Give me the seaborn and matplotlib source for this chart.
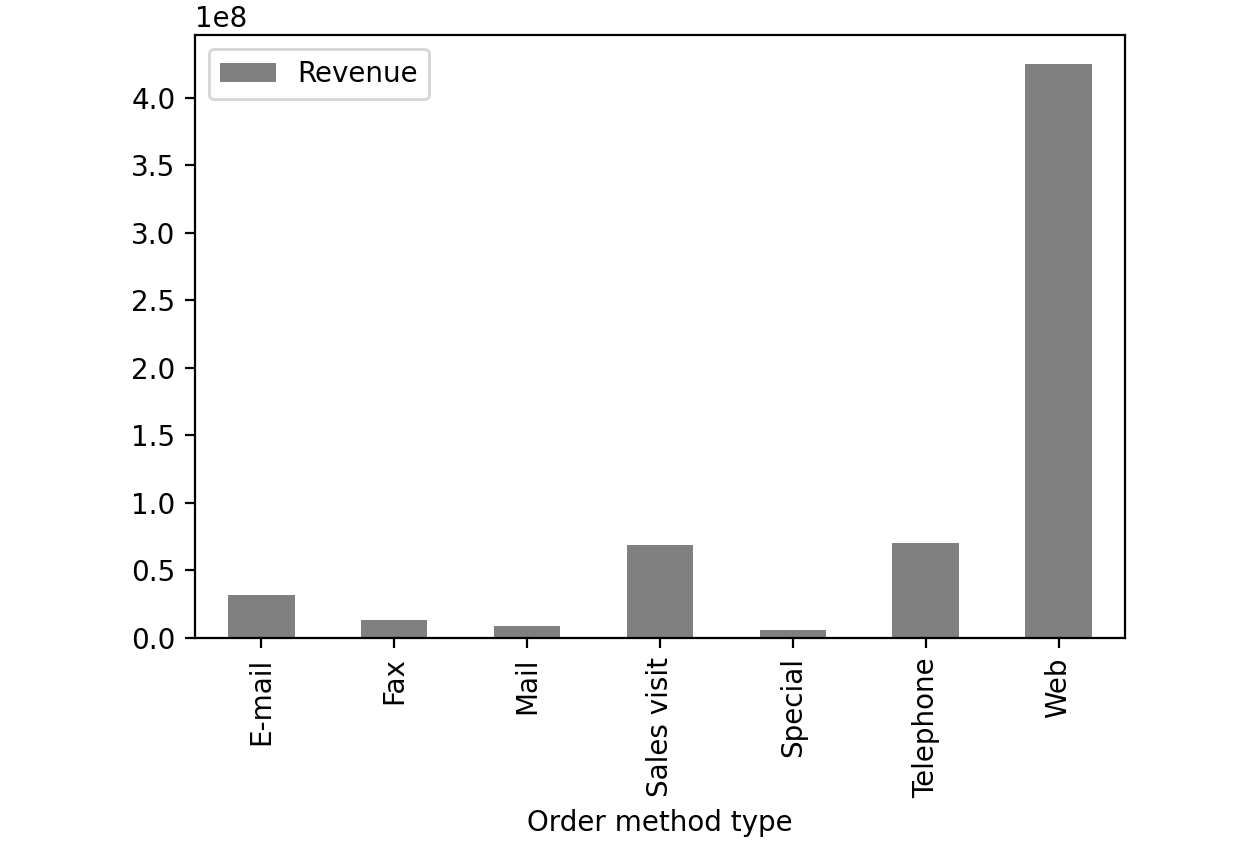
import matplotlib
matplotlib.use('Agg')
import matplotlib.pyplot as plt
import seaborn as sns
import pandas as pd

# Revenue by order method type
order_methods = ['E-mail', 'Fax', 'Mail', 'Sales visit', 'Special', 'Telephone', 'Web']
revenue = [3.19e7, 1.33e7, 0.89e7, 6.89e7, 0.59e7, 7.04e7, 4.252e8]

df = pd.DataFrame({'Order method type': order_methods, 'Revenue': revenue})

fig, ax = plt.subplots(figsize=(6.225, 4.23), dpi=200)
fig.subplots_adjust(left=0.1566, right=0.9036, top=0.9586, bottom=0.2459)

sns.barplot(data=df, x='Order method type', y='Revenue', color='gray',
            saturation=1, width=0.5, label='Revenue', ax=ax)
ax.set_xlim(-0.5, len(order_methods) - 0.5)
ax.set_ylim(0, max(revenue) * 1.05)
ax.set_ylabel('')
ax.set_xlabel('Order method type')
plt.setp(ax.get_xticklabels(), rotation=90)
ax.legend(loc='upper left')

fig.savefig('out.png', dpi=200)
